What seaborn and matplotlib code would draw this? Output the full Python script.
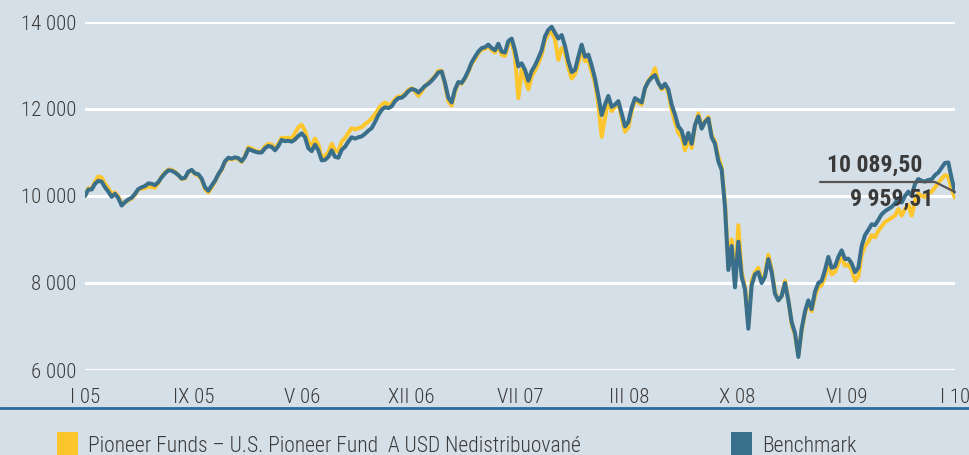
import numpy as np
import pandas as pd
import seaborn as sns
import matplotlib.pyplot as plt
import matplotlib.dates as mdates
from matplotlib.patches import Rectangle
from matplotlib.lines import Line2D

# weekly values, Jan 2005 - Jan 2010
benchmark = [
    10000, 10150, 10150, 10280, 10350, 10330, 10200, 10100, 9980, 10050,
    9950, 9780, 9860, 9920, 9960, 10050, 10160, 10200, 10230, 10290,
    10280, 10250, 10320, 10430, 10520, 10590, 10580, 10540, 10480, 10400,
    10420, 10560, 10600, 10520, 10500, 10400, 10200, 10120, 10240, 10350,
    10500, 10620, 10800, 10880, 10860, 10890, 10870, 10800, 10900, 11080,
    11050, 11020, 11000, 11000, 11100, 11150, 11130, 11050, 11150, 11290,
    11260, 11270, 11250, 11300, 11380, 11440, 11350, 11100, 11030, 11180,
    11050, 10820, 10830, 10900, 11050, 10900, 10880, 11060, 11130, 11250,
    11350, 11320, 11350, 11370, 11430, 11500, 11560, 11700, 11860, 11980,
    12040, 12020, 12060, 12180, 12250, 12260, 12320, 12410, 12460, 12440,
    12380, 12450, 12530, 12580, 12650, 12740, 12840, 12860, 12600, 12260,
    12150, 12450, 12620, 12600, 12720, 12880, 13070, 13200, 13320, 13400,
    13420, 13480, 13400, 13350, 13500, 13320, 13300, 13560, 13620, 13350,
    12980, 13050, 12900, 12650, 12870, 13000, 13170, 13350, 13670, 13820,
    13890, 13750, 13620, 13700, 13450, 13100, 12850, 12900, 13200, 13480,
    13200, 13250, 13000, 12700, 12300, 11860, 12100, 12300, 12050, 12100,
    12180, 11900, 11600, 11700, 12030, 12250, 12200, 12150, 12480, 12630,
    12720, 12780, 12600, 12480, 12580, 12450, 12100, 11870, 11600, 11500,
    11200, 11450, 11200, 11630, 11830, 11550, 11700, 11780, 11350, 11200,
    10800, 10600, 9750, 8300, 8850, 7900, 8950, 8150, 7850, 6950,
    7950, 8200, 8250, 8000, 8150, 8550, 8250, 7750, 7600, 7700,
    8000, 7600, 7100, 6850, 6300, 6950, 7350, 7600, 7400, 7800,
    8000, 8050, 8300, 8600, 8350, 8380, 8600, 8750, 8550, 8560,
    8450, 8250, 8350, 8850, 9100, 9220, 9350, 9330, 9450, 9580,
    9650, 9700, 9750, 9830, 9950, 9850, 10000, 10100, 10000, 10280,
    10390, 10350, 10330, 10370, 10380, 10480, 10540, 10650, 10760, 10770,
    10400, 10089.50,
]

fund = [
    10000, 10180, 10170, 10330, 10450, 10420, 10280, 10180, 10040, 10080,
    9990, 9820, 9850, 9900, 9940, 10030, 10150, 10170, 10180, 10220,
    10200, 10190, 10300, 10450, 10540, 10610, 10600, 10560, 10480, 10390,
    10400, 10550, 10590, 10500, 10470, 10380, 10160, 10080, 10200, 10330,
    10490, 10600, 10780, 10860, 10840, 10870, 10850, 10780, 10920, 11120,
    11090, 11050, 11020, 11030, 11140, 11200, 11180, 11080, 11200, 11340,
    11330, 11340, 11320, 11450, 11580, 11640, 11500, 11250, 11150, 11320,
    11180, 10900, 10920, 11000, 11200, 11050, 11020, 11250, 11330, 11450,
    11560, 11530, 11560, 11580, 11650, 11710, 11780, 11880, 12000, 12100,
    12150, 12100, 12130, 12230, 12290, 12290, 12350, 12440, 12480, 12400,
    12300, 12400, 12520, 12600, 12680, 12760, 12880, 12880, 12550, 12180,
    12080, 12400, 12600, 12580, 12700, 12850, 13040, 13150, 13280, 13370,
    13380, 13450, 13350, 13300, 13450, 13250, 13220, 13480, 13550, 13200,
    12250, 12900, 12700, 12450, 12750, 12880, 13050, 13250, 13580, 13720,
    13780, 13600, 13130, 13400, 13300, 12950, 12700, 12800, 13050, 13380,
    13100, 13120, 12850, 12600, 12100, 11360, 11800, 12200, 11950, 12050,
    12150, 11800, 11480, 11580, 11950, 12220, 12150, 12100, 12480, 12650,
    12750, 12940, 12600, 12450, 12550, 12380, 11980, 11700, 11450, 11350,
    11050, 11350, 11100, 11600, 11900, 11600, 11720, 11820, 11400, 11250,
    10900, 10650, 9850, 8450, 9000, 8000, 9330, 8250, 7900, 7050,
    8050, 8250, 8350, 8050, 8200, 8650, 8300, 7800, 7600, 7700,
    8050, 7620, 7050, 6800, 6350, 6900, 7300, 7550, 7350, 7700,
    7900, 7950, 8150, 8450, 8200, 8250, 8450, 8600, 8400, 8420,
    8300, 8050, 8150, 8650, 8850, 8950, 9100, 9050, 9200, 9300,
    9400, 9450, 9500, 9550, 9700, 9550, 9700, 9800, 9550, 9900,
    10050, 10000, 9980, 10050, 10100, 10200, 10300, 10400, 10480, 10450,
    10150, 9959.51,
]

tick_labels = ['I 05', 'IX 05', 'V 06', 'XII 06', 'VII 07', 'III 08', 'X 08', 'VI 09', 'I 10']
y_ticks = [6000, 8000, 10000, 12000, 14000]
fund_name = 'Pioneer Funds – U.S. Pioneer Fund  A USD Nedistribuované'
bench_name = 'Benchmark'

bg = '#d5dfe7'
c_fund = '#fdc62c'
c_bench = '#3a6f8b'
txt = '#3a3a3a'

sns.set_style('white', {'axes.facecolor': bg, 'figure.facecolor': bg})
plt.rcParams['font.family'] = ['Roboto Condensed', 'Open Sans Condensed', 'DejaVu Sans']
plt.rcParams['font.weight'] = 'light'

start, end = pd.Timestamp('2005-01-01'), pd.Timestamp('2010-01-01')
dates = pd.date_range(start, end, periods=len(benchmark))
df = pd.DataFrame({'date': dates, 'fund': fund, 'bench': benchmark})

W, H = 969, 455
fig = plt.figure(figsize=(W / 100, H / 100), dpi=100)
ax = fig.add_axes([85 / W, (H - 370) / H, (955 - 85) / W, (370 - 22) / H])

for y in y_ticks:
    ax.axhline(y, color='white', lw=2.2, zorder=0)

sns.lineplot(data=df, x='date', y='fund', color=c_fund, lw=2.9, ax=ax, zorder=2)
sns.lineplot(data=df, x='date', y='bench', color=c_bench, lw=2.9, ax=ax, zorder=3)

ax.set_xlim(start, end)
ax.set_ylim(6000, 14000)
ax.set_xlabel('')
ax.set_ylabel('')
ax.set_yticks(y_ticks)
ax.set_yticklabels(['{:,}'.format(v).replace(',', ' ') for v in y_ticks])
xt = np.linspace(mdates.date2num(start), mdates.date2num(end), len(tick_labels))
ax.set_xticks(xt)
ax.set_xticklabels(tick_labels)
ax.tick_params(axis='y', length=0, pad=6, labelsize=15, labelcolor=txt)
ax.tick_params(axis='x', length=0, pad=13, labelsize=15, labelcolor=txt)
sns.despine(ax=ax, left=True, bottom=True)

# end value annotation
ax.annotate('10 089,50', xy=(875 / W, (H - 165) / H), xycoords='figure fraction',
            ha='center', va='center', fontsize=17, fontweight='bold', color=txt)
ax.annotate('9 959,51', xy=(892 / W, (H - 199) / H), xycoords='figure fraction',
            ha='center', va='center', fontsize=17, fontweight='bold', color=txt)
fig.add_artist(Line2D([820 / W, 935 / W, 955 / W],
                      [(H - 182) / H, (H - 182) / H, (H - 192) / H],
                      color='#555555', lw=1.6, zorder=5))

# bottom rule
fig.add_artist(Line2D([0, 1], [(H - 408) / H, (H - 408) / H], color='#2c6a9a', lw=2))

# legend
fig.add_artist(Rectangle((57 / W, 0), 21 / W, 23 / H, transform=fig.transFigure,
                         color=c_fund, lw=0))
fig.text(88 / W, (H - 446) / H, fund_name, fontsize=15.5, color=txt, va='center')
fig.add_artist(Rectangle((731 / W, 0), 21 / W, 23 / H, transform=fig.transFigure,
                         color=c_bench, lw=0))
fig.text(762 / W, (H - 446) / H, bench_name, fontsize=15.5, color=txt, va='center')

fig.savefig('out.png', dpi=100, facecolor=bg)
